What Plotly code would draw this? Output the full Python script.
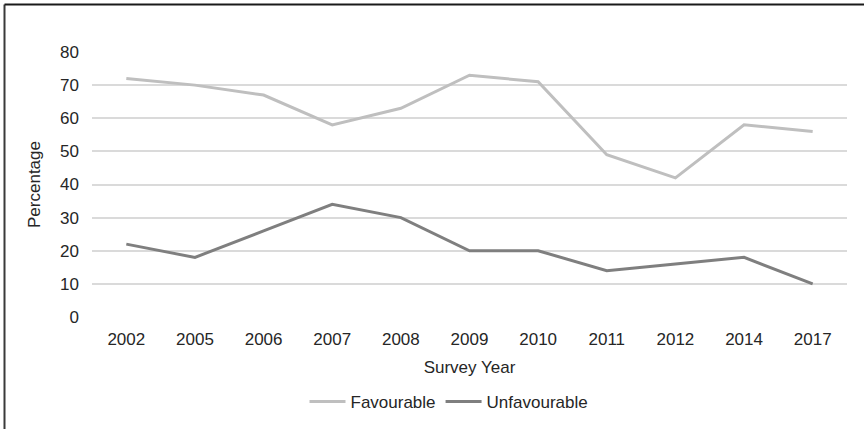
import plotly.graph_objects as go

# Survey results: share of respondents with favourable / unfavourable views
years = ["2002", "2005", "2006", "2007", "2008", "2009", "2010", "2011", "2012", "2014", "2017"]
favourable = [72, 70, 67, 58, 63, 73, 71, 49, 42, 58, 56]
unfavourable = [22, 18, 26, 34, 30, 20, 20, 14, 16, 18, 10]
y_ticks = [0, 10, 20, 30, 40, 50, 60, 70, 80]

FONT = "Liberation Sans, Arial, sans-serif"
TEXT = "#262626"

fig = go.Figure()
fig.add_trace(go.Scatter(
    x=years, y=favourable, name="Favourable", mode="lines",
    line=dict(color="#bfbfbf", width=3),
))
fig.add_trace(go.Scatter(
    x=years, y=unfavourable, name="Unfavourable", mode="lines",
    line=dict(color="#7f7f7f", width=3),
))

L, R, T, B = 92, 17, 52, 112
W, H = 864, 429
pw, ph = W - L - R, H - T - B

def px_x(x):
    return (x - L) / pw

def px_y(y):
    return (H - B - y) / ph

# Outer chart frame (left and top edges)
fig.add_shape(type="line", xref="paper", yref="paper",
              x0=px_x(4.5), x1=px_x(4.5), y0=px_y(4.5), y1=px_y(440),
              line=dict(color="#3a3a3a", width=2))
fig.add_shape(type="line", xref="paper", yref="paper",
              x0=px_x(4.5), x1=px_x(880), y0=px_y(4.5), y1=px_y(4.5),
              line=dict(color="#1a1a1a", width=2))

fig.update_layout(
    width=W, height=H,
    margin=dict(l=L, r=R, t=T, b=B, pad=0, autoexpand=False),
    paper_bgcolor="white", plot_bgcolor="white",
    font=dict(family=FONT, size=17, color=TEXT),
    showlegend=True,
    legend=dict(orientation="h", x=px_x(449), xanchor="center",
                y=px_y(402), yanchor="middle",
                font=dict(size=17, color=TEXT), itemwidth=36,
                bgcolor="rgba(0,0,0,0)"),
    xaxis=dict(
        type="category", categoryorder="array", categoryarray=years,
        range=[-0.5, len(years) - 0.5], automargin=False,
        showgrid=False, showline=False, zeroline=False, ticks="",
        ticklabelstandoff=10,
        title=dict(text="Survey Year", standoff=13, font=dict(size=17, color=TEXT)),
    ),
    yaxis=dict(
        range=[0, 80], tickvals=y_ticks, automargin=False,
        showgrid=True, gridcolor="#dadada", gridwidth=1.5,
        zeroline=False, showline=False, ticks="",
        ticklabelstandoff=12,
        title=dict(text="Percentage", standoff=15, font=dict(size=17, color=TEXT)),
    ),
)

fig.write_html("out.html")
